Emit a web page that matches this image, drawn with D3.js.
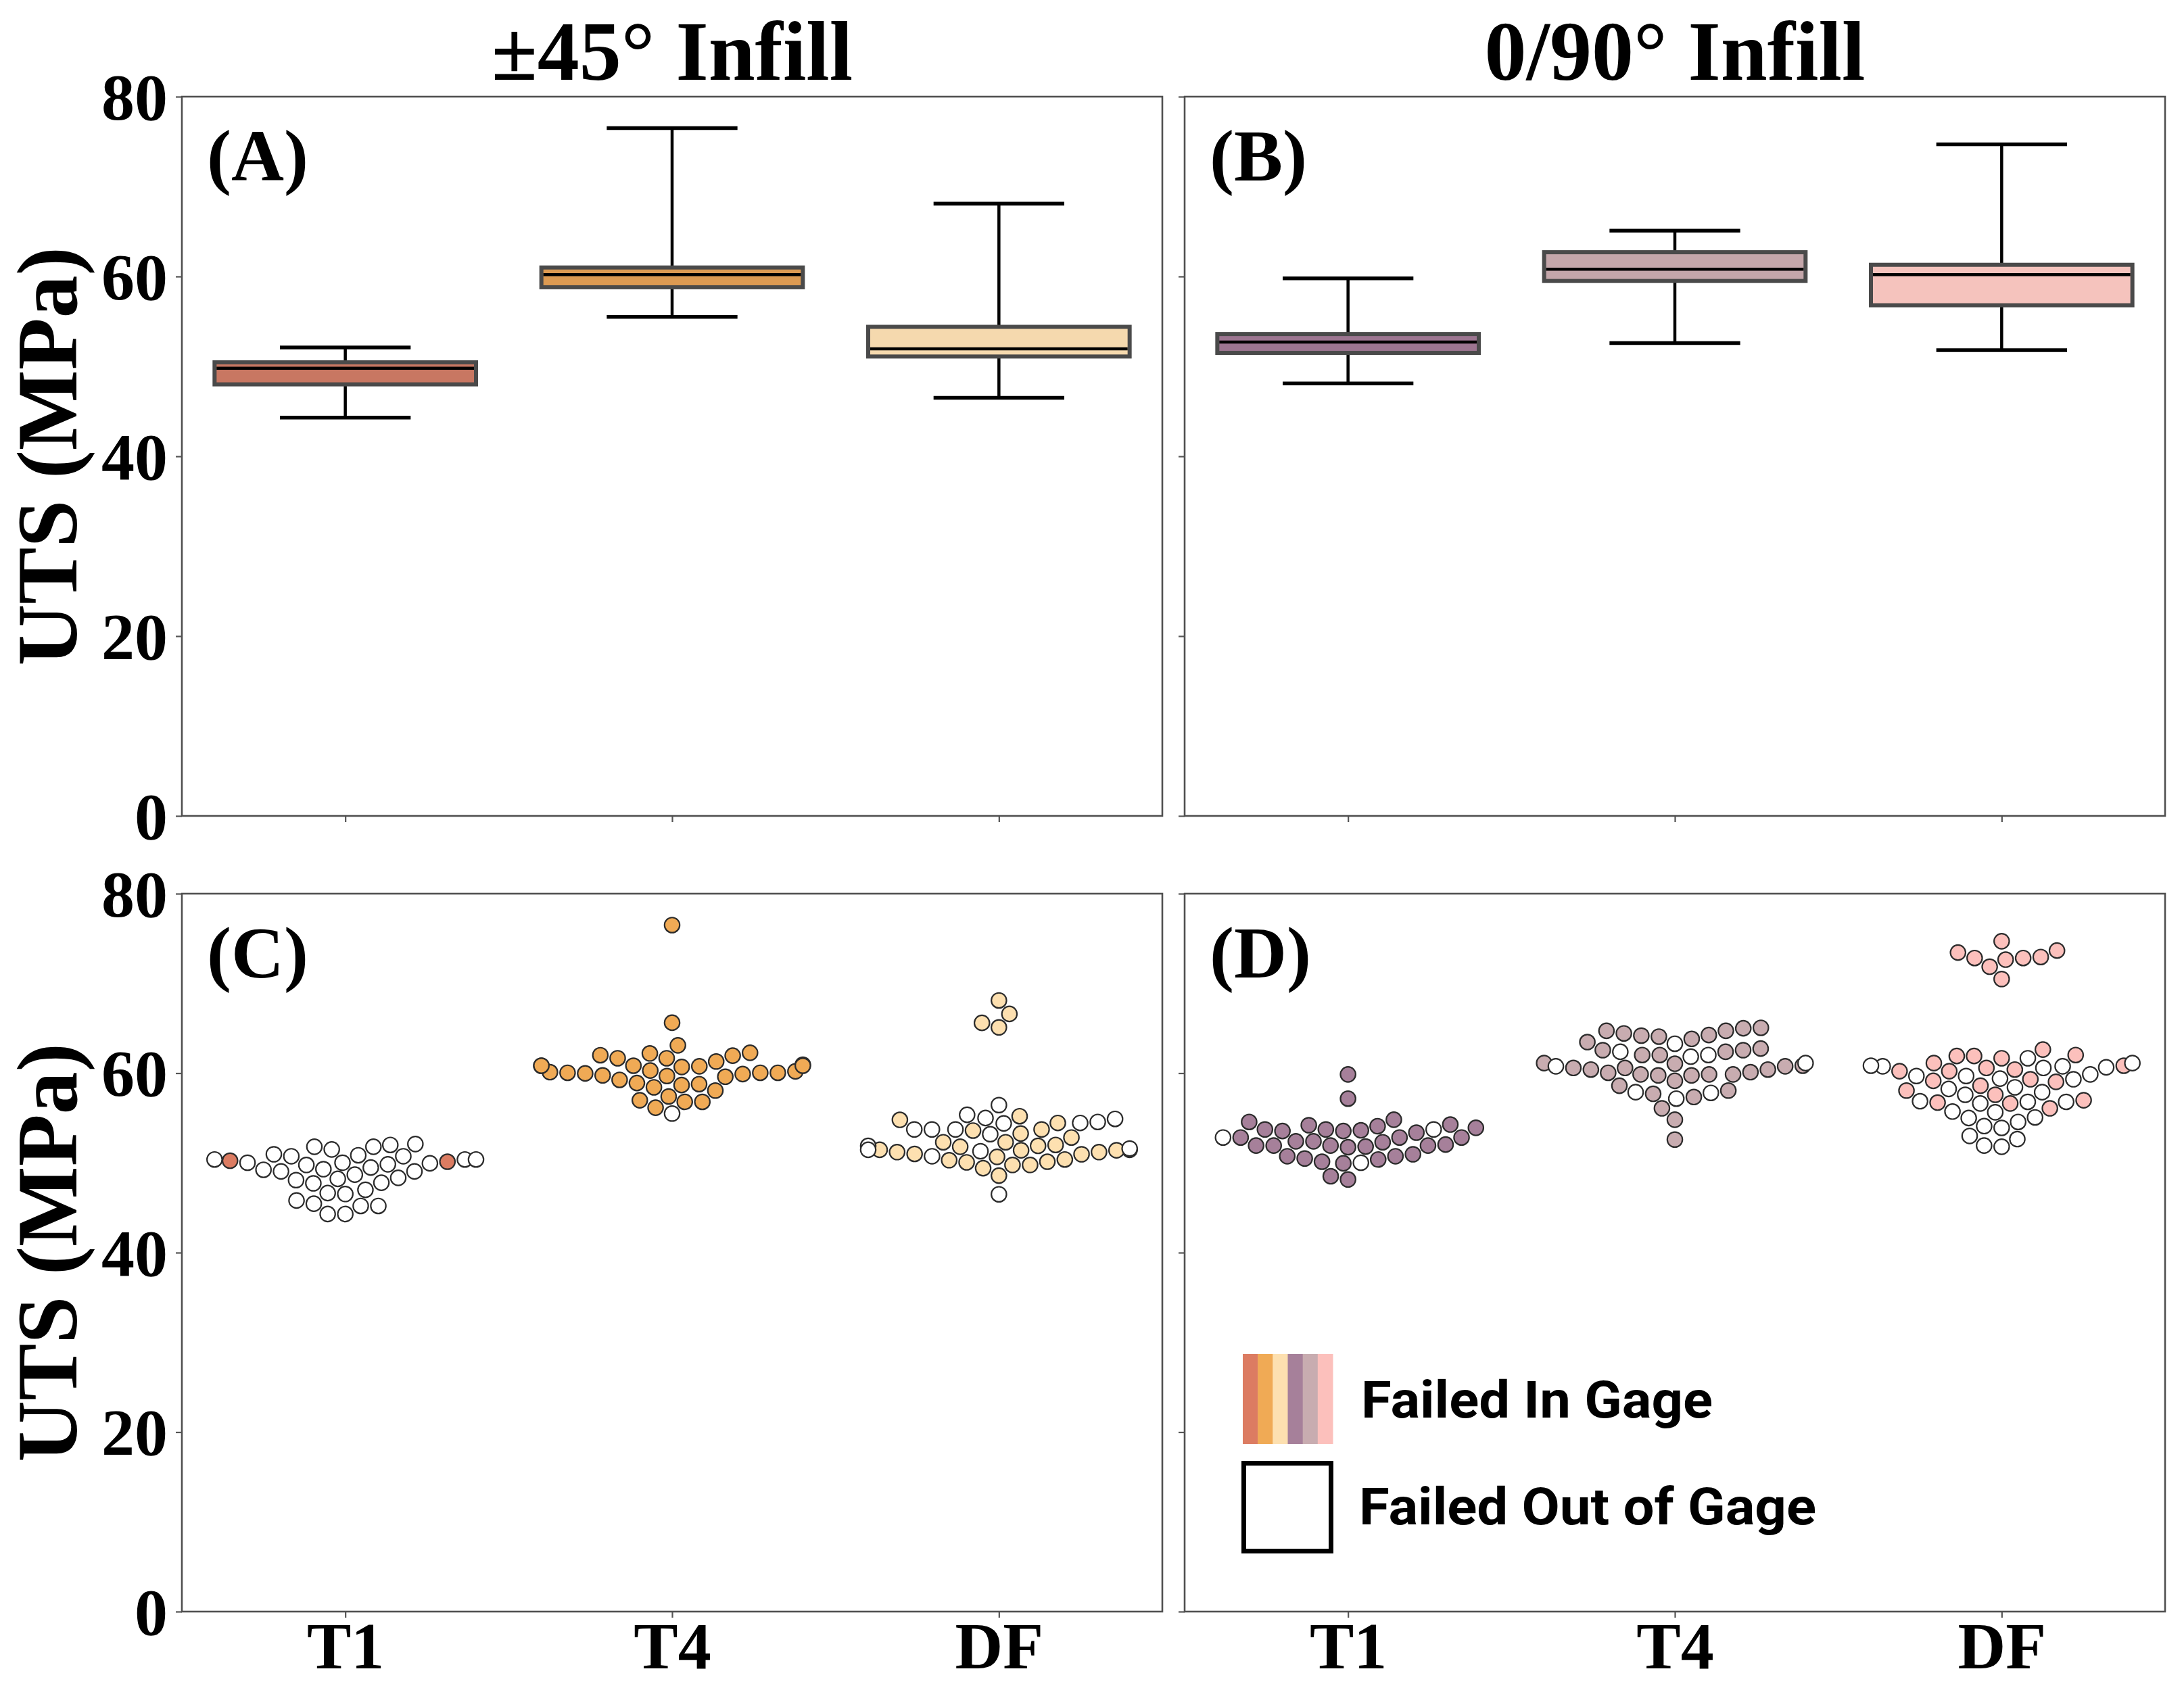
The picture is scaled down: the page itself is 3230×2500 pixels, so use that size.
<!DOCTYPE html>
<html><head><meta charset="utf-8">
<script src="https://cdn.jsdelivr.net/npm/d3@7"></script>
<style>body{margin:0;background:#fff}</style>
</head><body><svg id="c" width="3230" height="2500"></svg>
<script>
// ---------------- DATA ----------------
const categories = ["T1", "T4", "DF"];
const infillTitles = ["±45° Infill", "0/90° Infill"];
const panelLetters = ["(A)", "(B)", "(C)", "(D)"];
const yTicks = [0, 20, 40, 60, 80];

// box statistics per category [T1, T4, DF]
const whiskerLo45 = [44.3, 55.5, 46.5];
const q1_45       = [48.0, 58.8, 51.1];
const median45    = [49.8, 60.2, 51.95];
const q3_45       = [50.45, 61.0, 54.4];
const whiskerHi45 = [52.1, 76.5, 68.1];

const whiskerLo090 = [48.1, 52.6, 51.8];
const q1_090       = [51.5, 59.5, 56.8];
const median090    = [52.7, 60.8, 60.2];
const q3_090       = [53.6, 62.7, 61.3];
const whiskerHi090 = [59.8, 65.1, 74.7];

// swarm values (UTS, MPa): failed in gage / failed out of gage
const sw45_T1_in  = [50.24, 50.13];
const sw45_T1_out = [52.1, 52.0, 51.8, 51.8, 51.5, 50.96, 50.85, 50.74, 50.74, 50.38, 50.38, 50.38,
  50.02, 50.02, 49.95, 49.84, 49.77, 49.48, 49.3, 49.23, 49.05, 49.05, 48.69, 48.33, 48.22, 48.08,
  47.79, 47.72, 47.0, 46.64, 46.53, 45.81, 45.45, 45.2, 45.2, 44.3, 44.3];
const sw45_T4_in  = [76.5, 65.62, 63.1, 62.27, 62.2, 62.0, 61.95, 61.66, 61.66, 61.3, 60.94, 60.76,
  60.83, 60.83, 60.69, 60.04, 59.97, 59.68, 59.6, 60.11, 60.04, 60.29, 59.75, 59.9, 60.04, 60.2,
  60.83, 60.83, 59.25, 58.9, 58.78, 58.67, 58.42, 58.06, 57.4, 56.98, 56.8, 56.8, 56.15];
const sw45_T4_out = [55.5];
const sw45_DF_in  = [68.1, 66.6, 65.6, 65.1, 55.2, 54.8, 54.45, 53.73, 53.6, 53.27, 52.83, 52.3, 52.3,
  52.0, 51.8, 51.9, 51.4, 51.46, 51.2, 50.96, 51.46, 51.2, 51.0, 51.4, 50.13, 50.06, 50.67, 49.77,
  49.77, 50.3, 50.38, 49.41, 48.58];
const sw45_DF_out = [56.44, 55.36, 55.0, 54.9, 54.56, 54.45, 54.4, 53.73, 53.73, 53.73, 53.2, 51.9,
  50.74, 51.3, 51.46, 51.6, 46.5];

const sw090_T1_in  = [59.86, 57.16, 54.81, 54.56, 54.2, 54.09, 53.91, 53.73, 54.27, 53.63, 53.73, 53.37,
  52.83, 51.93, 51.93, 52.4, 52.04, 51.75, 51.82, 51.93, 52.3, 52.4, 51.93, 52.83, 52.83, 53.55, 53.55,
  50.74, 50.49, 49.95, 50.13, 50.38, 50.74, 50.96, 48.51, 48.15];
const sw090_T1_out = [53.73, 52.83, 50.02];
const sw090_T4_in  = [65.05, 64.72, 64.43, 64.07, 63.82, 64.25, 63.46, 64.18, 64.72, 65.0, 62.56, 62.38,
  62.02, 62.02, 62.56, 62.74, 60.76, 60.58, 60.4, 60.04, 59.86, 59.75, 59.75, 61.05, 59.86, 61.12,
  59.86, 60.11, 60.4, 60.58, 60.83, 59.14, 58.6, 57.7, 57.34, 58.06, 56.08, 54.81, 52.6];
const sw090_T4_out = [62.02, 61.84, 63.28, 62.38, 61.12, 60.76, 57.8, 57.16, 57.88];
const sw090_DF_in  = [74.7, 73.66, 72.83, 71.86, 72.65, 72.83, 72.94, 73.44, 70.49, 61.91, 61.66, 62.02,
  62.63, 61.91, 60.58, 60.83, 61.12, 60.4, 60.22, 60.22, 59.14, 59.03, 59.32, 58.6, 58.06, 57.59,
  56.72, 56.98, 56.62, 56.08];
const sw090_DF_out = [61.66, 60.76, 60.65, 60.76, 60.83, 60.58, 61.12, 59.68, 59.68, 59.39, 59.86,
  59.32, 58.24, 57.88, 58.42, 57.59, 56.87, 56.62, 56.8, 56.8, 55.64, 55.07, 55.72, 55.0, 54.1, 53.9,
  54.56, 53.0, 51.93, 51.8, 52.65];

// ---------------- STYLE ----------------
const pointFill45  = ["#dc7c62", "#f0aa55", "#fde0b0"];
const pointFill090 = ["#a6809a", "#c8acb0", "#fcc0bc"];
const boxFill45    = ["#c87762", "#dc9a52", "#f5d9ae"];
const boxFill090   = ["#9c7590", "#c4a6aa", "#f5c3bd"];
const legendStripes = ["#dc7c62", "#f0aa55", "#fde0b0", "#a6809a", "#c8acb0", "#fcc0bc"];
const SERIF = "'Liberation Serif','Times New Roman',serif";

const W = 3230, H = 2500;
const svg = d3.select("#c");
svg.append("rect").attr("width", W).attr("height", H).attr("fill", "#fff");

const colLeft = [269, 1752], colW = 1450;
const rowTop = [143, 1322], rowH = [1064, 1062];

function makeScales(col, row) {
  const x0 = colLeft[col], x1 = x0 + colW, y0 = rowTop[row], y1 = y0 + rowH[row];
  const x = d3.scalePoint().domain(categories).range([x0, x1]).padding(0.5);
  const y = d3.scaleLinear().domain([0, 80]).range([y1, y0]);
  return {x, y, x0, x1, y0, y1};
}

function drawAxes(s, col, row) {
  const g = svg.append("g");
  const ya = g.append("g").attr("transform", `translate(${s.x0},0)`)
    .call(d3.axisLeft(s.y).tickValues(yTicks).tickSize(9).tickPadding(12)
      .tickFormat(col === 0 ? d3.format("d") : () => ""));
  ya.select(".domain").remove();
  ya.selectAll(".tick line").attr("stroke", "#555").attr("stroke-width", 2.2);
  ya.selectAll(".tick text").attr("font-family", SERIF).attr("font-weight", "bold")
    .attr("font-size", 98).attr("fill", "#000").attr("dy", "0.34em");
  const xa = g.append("g").attr("transform", `translate(0,${s.y1})`)
    .call(d3.axisBottom(s.x).tickSize(9).tickFormat(row === 1 ? (d => d) : () => ""));
  xa.select(".domain").remove();
  xa.selectAll(".tick line").attr("stroke", "#555").attr("stroke-width", 2.2);
  xa.selectAll(".tick text").attr("font-family", SERIF).attr("font-weight", "bold")
    .attr("font-size", 98).attr("fill", "#000").attr("dy", null).attr("y", 84);
  g.append("rect").attr("x", s.x0).attr("y", s.y0).attr("width", s.x1 - s.x0).attr("height", s.y1 - s.y0)
    .attr("fill", "none").attr("stroke", "#505050").attr("stroke-width", 2.6);
  g.append("text").attr("x", s.x0 + 37).attr("y", s.y0 + 124).text(panelLetters[row * 2 + col])
    .attr("font-family", SERIF).attr("font-weight", "bold").attr("font-size", 108);
}

function drawBoxes(s, lo, q1, med, q3, hi, fills) {
  const step = s.x.step();
  const bw = 0.8 * step, cw = 0.4 * step;
  const g = svg.append("g");
  categories.forEach((c, i) => {
    const cx = s.x(c);
    g.append("line").attr("x1", cx).attr("x2", cx).attr("y1", s.y(q3[i])).attr("y2", s.y(hi[i]))
      .attr("stroke", "#000").attr("stroke-width", 4.5);
    g.append("line").attr("x1", cx).attr("x2", cx).attr("y1", s.y(q1[i])).attr("y2", s.y(lo[i]))
      .attr("stroke", "#000").attr("stroke-width", 4.5);
    [hi[i], lo[i]].forEach(v => g.append("line").attr("x1", cx - cw / 2).attr("x2", cx + cw / 2)
      .attr("y1", s.y(v)).attr("y2", s.y(v)).attr("stroke", "#000").attr("stroke-width", 5.5));
    g.append("rect").attr("x", cx - bw / 2).attr("y", s.y(q3[i])).attr("width", bw)
      .attr("height", s.y(q1[i]) - s.y(q3[i])).attr("fill", fills[i])
      .attr("stroke", "#4a4a4a").attr("stroke-width", 6);
    g.append("line").attr("x1", cx - bw / 2 + 3).attr("x2", cx + bw / 2 - 3)
      .attr("y1", s.y(med[i])).attr("y2", s.y(med[i])).attr("stroke", "#000").attr("stroke-width", 4.5);
  });
}

// seaborn-like beeswarm in pixel space
function beeswarm(pts, cx, half, r) {
  const idx = d3.range(pts.length).sort((a, b) => (pts[b].py - pts[a].py) || (a - b));
  const placed = [];
  idx.forEach(i => {
    const yi = pts[i].py;
    const nb = [];
    for (let k = placed.length - 1; k >= 0; k--) {
      if (Math.abs(placed[k].py - yi) < 2 * r) nb.push(placed[k]); else break;
    }
    nb.reverse();
    const cands = [cx];
    let lf = true;
    nb.forEach(n => {
      const dy = yi - n.py;
      const dx = Math.sqrt(Math.max(4 * r * r - dy * dy, 0)) * 1.05;
      if (lf) cands.push(n.px - dx, n.px + dx); else cands.push(n.px + dx, n.px - dx);
      lf = !lf;
    });
    const sorted = cands.map((c, j) => [c, j])
      .sort((a, b) => (Math.abs(a[0] - cx) - Math.abs(b[0] - cx)) || (a[1] - b[1]));
    let px = sorted[sorted.length - 1][0];
    for (const [c] of sorted) {
      if (nb.every(n => { const dx = c - n.px, dy = yi - n.py; return dx * dx + dy * dy >= 4 * r * r - 1e-6; })) { px = c; break; }
    }
    pts[i].px = px;
    placed.push(pts[i]);
  });
  pts.forEach(p => { p.px = Math.max(cx - half, Math.min(cx + half, p.px)); });
}

function drawSwarms(s, groups, fills) {
  const step = s.x.step();
  const g = svg.append("g");
  groups.forEach((grp, i) => {
    const cx = s.x(categories[i]);
    const pts = grp[0].map(v => ({v, inG: true})).concat(grp[1].map(v => ({v, inG: false})));
    pts.forEach(p => { p.py = s.y(p.v); });
    beeswarm(pts, cx, 0.4 * step, 12.4);
    g.selectAll(null).data(pts).enter().append("circle")
      .attr("cx", d => d.px).attr("cy", d => d.py).attr("r", 11.2)
      .attr("fill", d => d.inG ? fills[i] : "#fff")
      .attr("stroke", "#2b2b2b").attr("stroke-width", 2.2);
  });
}

// Panels
const sA = makeScales(0, 0), sB = makeScales(1, 0), sC = makeScales(0, 1), sD = makeScales(1, 1);
drawBoxes(sA, whiskerLo45, q1_45, median45, q3_45, whiskerHi45, boxFill45);
drawBoxes(sB, whiskerLo090, q1_090, median090, q3_090, whiskerHi090, boxFill090);
drawSwarms(sC, [[sw45_T1_in, sw45_T1_out], [sw45_T4_in, sw45_T4_out], [sw45_DF_in, sw45_DF_out]], pointFill45);
drawSwarms(sD, [[sw090_T1_in, sw090_T1_out], [sw090_T4_in, sw090_T4_out], [sw090_DF_in, sw090_DF_out]], pointFill090);
drawAxes(sA, 0, 0); drawAxes(sB, 1, 0); drawAxes(sC, 0, 1); drawAxes(sD, 1, 1);

// Titles
[sA, sB].forEach((s, i) => {
  svg.append("text").attr("x", (s.x0 + s.x1) / 2).attr("y", 118).attr("text-anchor", "middle")
    .attr("font-family", SERIF).attr("font-weight", "bold").attr("font-size", 124).text(infillTitles[i]);
});
// Y labels
[sA, sC].forEach(s => {
  svg.append("text").attr("transform", `translate(113,${(s.y0 + s.y1) / 2}) rotate(-90)`)
    .attr("text-anchor", "middle").attr("font-family", SERIF).attr("font-weight", "bold")
    .attr("font-size", 126).text("UTS (MPa)");
});

// Legend
const lg = svg.append("g");
const stripeW = 133 / legendStripes.length;
legendStripes.forEach((c, i) => lg.append("rect").attr("x", 1838 + i * stripeW).attr("y", 2003)
  .attr("width", stripeW + 0.5).attr("height", 133).attr("fill", c));
lg.append("rect").attr("x", 1839.5).attr("y", 2164.5).attr("width", 129).attr("height", 130)
  .attr("fill", "#fff").attr("stroke", "#000").attr("stroke-width", 7);
const LSANS = "Roboto,'Liberation Sans',sans-serif";
lg.append("text").attr("x", 2013).attr("y", 2097).attr("font-family", LSANS).attr("font-weight", 700)
  .attr("font-size", 76).attr("textLength", 520).attr("lengthAdjust", "spacingAndGlyphs").text("Failed In Gage");
lg.append("text").attr("x", 2010).attr("y", 2255).attr("font-family", LSANS).attr("font-weight", 700)
  .attr("font-size", 76).attr("textLength", 676).attr("lengthAdjust", "spacingAndGlyphs").text("Failed Out of Gage");
</script></body></html>
